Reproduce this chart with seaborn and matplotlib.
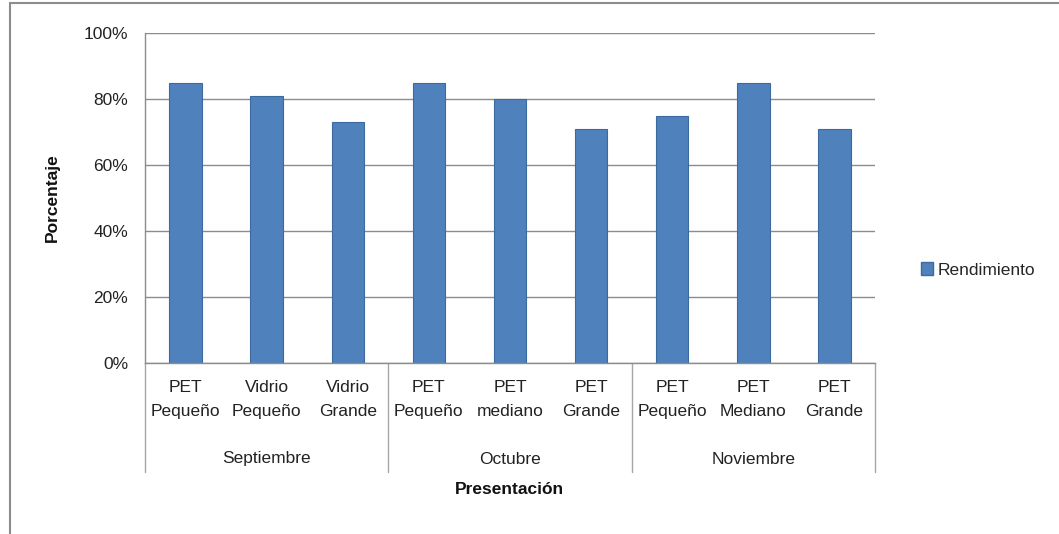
import matplotlib
matplotlib.use("Agg")
import matplotlib.pyplot as plt
import matplotlib.transforms as mtransforms
from matplotlib.lines import Line2D
from matplotlib.ticker import PercentFormatter
import seaborn as sns
import pandas as pd

months = ["Septiembre", "Octubre", "Noviembre"]
products = ["PET\nPequeño", "Vidrio\nPequeño", "Vidrio\nGrande",
            "PET\nPequeño", "PET\nmediano", "PET\nGrande",
            "PET\nPequeño", "PET\nMediano", "PET\nGrande"]
product_month = ["Septiembre"] * 3 + ["Octubre"] * 3 + ["Noviembre"] * 3
rendimiento = [0.85, 0.81, 0.73, 0.85, 0.80, 0.71, 0.75, 0.85, 0.71]
yticks = [0, 0.2, 0.4, 0.6, 0.8, 1.0]

sns.set_style("white")
plt.rcParams['font.family'] = ['Liberation Sans', 'DejaVu Sans']

df = pd.DataFrame({
    "key": [f"{m}|{i}" for i, m in enumerate(product_month)],
    "producto": products,
    "mes": product_month,
    "valor": rendimiento,
})

W, H = 1059, 534
fig = plt.figure(figsize=(W / 100, H / 100), dpi=100)
ax = fig.add_axes([145 / W, 1 - 363 / H, 730 / W, 330 / H])

sns.barplot(data=df, x="key", y="valor", order=list(df["key"]), color="#4F81BD",
            width=0.4, edgecolor="#3C6A9E", linewidth=0.8, ax=ax,
            label="Rendimiento", saturation=1)
if ax.get_legend() is not None:
    ax.get_legend().remove()

ax.set_xlim(-0.5, len(products) - 0.5)
ax.set_ylim(0, 1)
ax.set_yticks(yticks)
ax.yaxis.set_major_formatter(PercentFormatter(1.0, decimals=0))
ax.grid(axis="y", color="#8C8C8C", linewidth=1)
ax.set_axisbelow(True)
for s in ["top", "right"]:
    ax.spines[s].set_visible(False)
for s in ["left", "bottom"]:
    ax.spines[s].set_color("#8C8C8C")
    ax.spines[s].set_linewidth(1)

ax.set_xticks(range(len(products)))
ax.set_xticklabels(products, fontsize=12.5, color="#222222")
for t in ax.get_xticklabels():
    t.set_linespacing(1.75)
ax.tick_params(axis="x", length=0, pad=12)
ax.tick_params(axis="y", length=7, color="#8C8C8C", labelsize=12.5, labelcolor="#222222", pad=5)

ax.set_ylabel("Porcentaje", fontsize=12.5, fontweight="bold", color="#111111")
ax.yaxis.set_label_coords(-85 / 730, 0.5)
ax.set_xlabel("")

trans = mtransforms.blended_transform_factory(ax.transData, ax.transAxes)
bottom = (363 - 472) / 330
for b in [-0.5, 2.5, 5.5, 8.5]:
    ax.add_line(Line2D([b, b], [0, bottom], transform=trans, color="#A6A6A6",
                       linewidth=1, clip_on=False))
for gi, m in enumerate(months):
    ax.text(gi * 3 + 1, (363 - 459) / 330, m, transform=trans, ha="center",
            va="center", fontsize=12.5, color="#222222")

fig.text(509 / W, 1 - 490 / H, "Presentación", ha="center", va="center",
         fontsize=12.5, fontweight="bold", color="#111111")

handles = [plt.Rectangle((0, 0), 1, 1, facecolor="#4F81BD", edgecolor="#3C6A9E")]
fig.legend(handles, ["Rendimiento"], loc="center left",
           bbox_to_anchor=(905 / W, 1 - 270 / H), frameon=False,
           fontsize=12.5, handlelength=0.7, handleheight=0.7, handletextpad=0.3)

fig.add_artist(Line2D([10 / W, 10 / W], [0, 1 - 3 / H], transform=fig.transFigure,
                      color="#8C8C8C", linewidth=1.5))
fig.add_artist(Line2D([10 / W, 1], [1 - 3 / H, 1 - 3 / H], transform=fig.transFigure,
                      color="#8C8C8C", linewidth=1.5))

fig.savefig("out.png", dpi=100)
